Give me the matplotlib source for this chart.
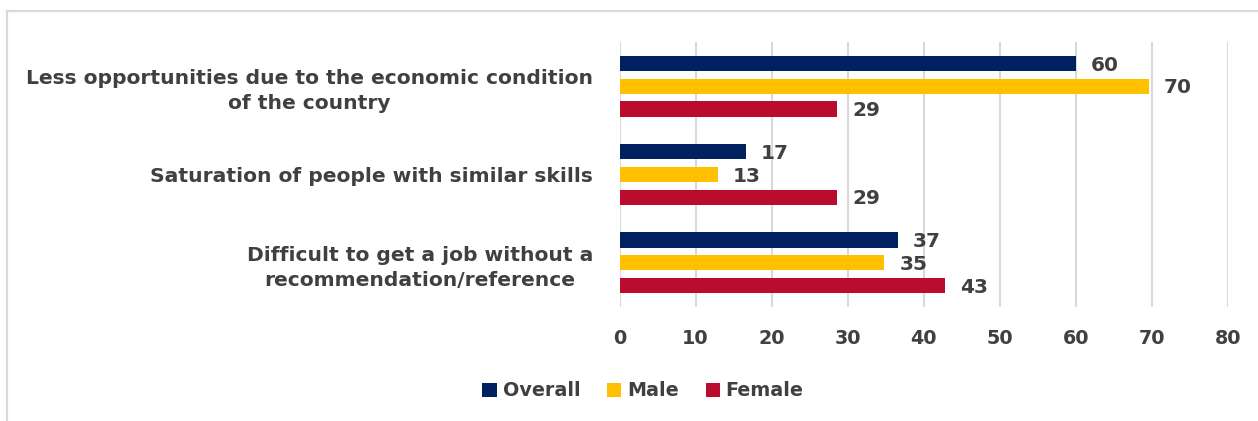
import matplotlib
matplotlib.use("Agg")
import matplotlib.pyplot as plt
from matplotlib.lines import Line2D
import numpy as np

categories = [
    "Less opportunities due to the economic condition\nof the country",
    "Saturation of people with similar skills",
    "Difficult to get a job without a\nrecommendation/reference",
]
series_names = ["Overall", "Male", "Female"]
overall = [60.0, 16.6, 36.6]
male = [69.6, 12.9, 34.8]
female = [28.6, 28.6, 42.8]
colors = ["#002060", "#FFC000", "#BA0C2F"]
xticks = [0, 10, 20, 30, 40, 50, 60, 70, 80]

W, H = 1258, 421
fig = plt.figure(figsize=(W / 100, H / 100), dpi=100)
fig.patch.set_facecolor("white")

ax = fig.add_axes([619.5 / W, 1 - 307 / H, (1228 - 619.5) / W, (307 - 42) / H])

txt = "#404040"
font = ["DejaVu Sans"]
fs = 13.8
fs_lab = 14.5
fs_cat = 14.6
y = np.arange(len(categories))
bh = 0.173
off = 0.257
for i, (vals, c, name) in enumerate(zip([overall, male, female], colors, series_names)):
    pos = y + (i - 1) * off
    ax.barh(pos, vals, height=bh, color=c, label=name, zorder=3)
    for p, v in zip(pos, vals):
        ax.text(v + 2.0, p + 0.02, f"{v:.0f}", va="center", ha="left",
                fontsize=fs_lab, fontweight="bold", color=txt, family=font)

ax.set_xlim(0, 80)
ax.set_ylim(2.5, -0.5)
ax.set_xticks(xticks)
ax.set_xticklabels([str(t) for t in xticks])
ax.xaxis.grid(True, color="#D9D9D9", linewidth=1.5, zorder=0)
ax.set_axisbelow(True)
for s in ax.spines.values():
    s.set_visible(False)
ax.tick_params(axis="both", length=0)
ax.tick_params(axis="x", pad=16)
for lab in ax.get_xticklabels():
    lab.set_fontsize(fs)
    lab.set_fontweight("bold")
    lab.set_color(txt)
    lab.set_family(font)
ax.set_yticks(y)
ax.set_yticklabels(categories)
for lab in ax.get_yticklabels():
    lab.set_fontsize(fs_cat)
    lab.set_fontweight("bold")
    lab.set_color(txt)
    lab.set_family(font)
    lab.set_multialignment("center")
    lab.set_linespacing(1.42)
ax.tick_params(axis="y", pad=19)

leg = fig.legend(loc="center", bbox_to_anchor=(643 / W, 1 - 391 / H), ncol=3, frameon=False,
                 prop={"family": font, "weight": "bold", "size": fs},
                 handlelength=0.75, handleheight=0.75, handletextpad=0.3, columnspacing=1.4)
for t in leg.get_texts():
    t.set_color(txt)

fig.add_artist(Line2D([7 / W, 1], [1 - 11 / H, 1 - 11 / H], color="#D9D9D9", linewidth=1.6))
fig.add_artist(Line2D([7 / W, 7 / W], [1 - 11 / H, 0], color="#D9D9D9", linewidth=1.6))

fig.savefig("out.png", dpi=100, facecolor="white")
